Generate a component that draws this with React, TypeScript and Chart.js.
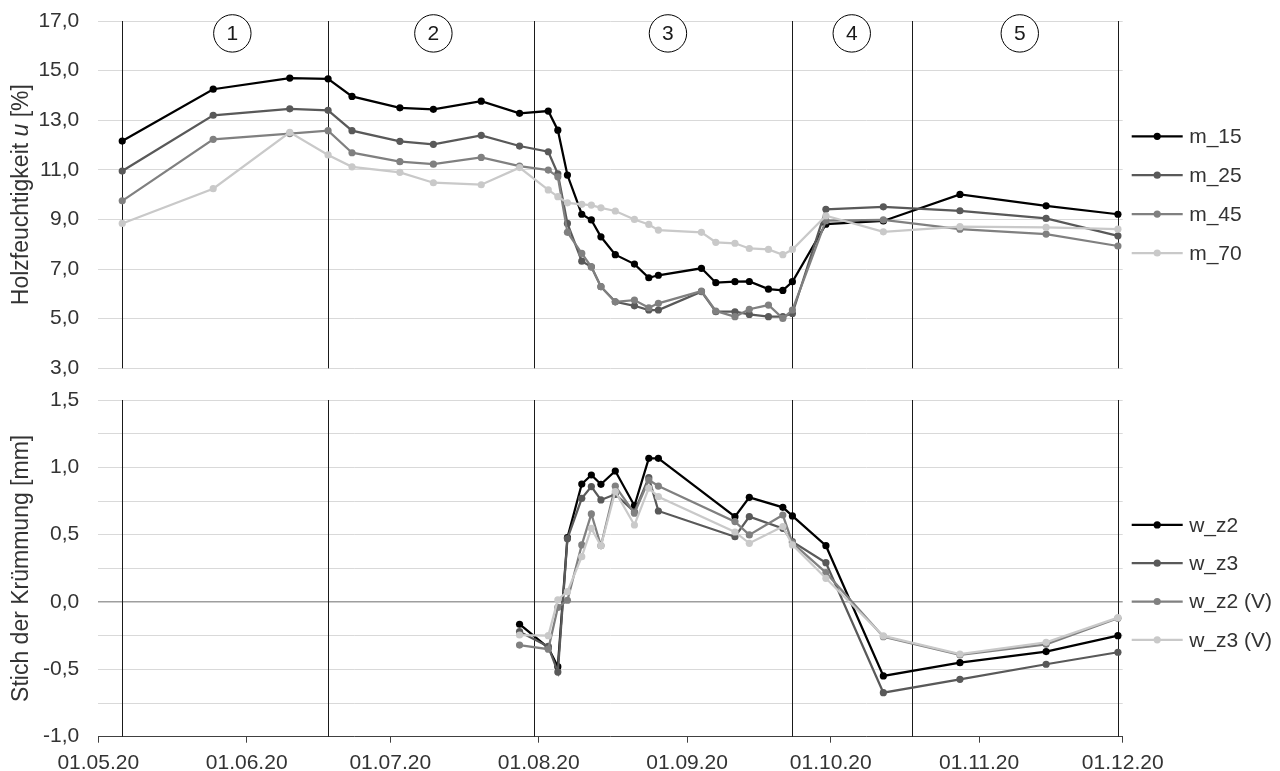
import React, { useEffect, useRef } from "react";
import { Chart, registerables } from "chart.js";

Chart.register(...registerables);

const FONT = "'Liberation Sans', Arial, Helvetica, sans-serif";
const TEXT = "#333333";

// ---- x axis (days after 01.05.20) ----
const xTickDays = [0, 31, 61, 92, 123, 153, 184, 214];
const xTickLabels = ["01.05.20", "01.06.20", "01.07.20", "01.08.20", "01.09.20", "01.10.20", "01.11.20", "01.12.20"];

// ---- phases ----
const phaseLineDays = [5, 48, 91.1, 145, 170, 213];
const phaseLabels = ["1", "2", "3", "4", "5"];
const phaseLabelDays = [28, 70, 119, 157.4, 192.5];
const phaseLabelLevel = 16.5;

// ---- top panel: wood moisture ----
const moistureDays = [5, 24, 40, 48, 53, 63, 70, 80, 88, 94, 96, 98, 101, 103, 105, 108, 112, 115, 117, 126, 129, 133, 136, 140, 143, 145, 152, 164, 180, 198, 213];
const m15 = [12.16, 14.25, 14.7, 14.67, 13.96, 13.5, 13.44, 13.77, 13.28, 13.37, 12.6, 10.79, 9.21, 8.98, 8.3, 7.58, 7.2, 6.65, 6.75, 7.03, 6.45, 6.49, 6.5, 6.19, 6.14, 6.49, 8.81, 8.94, 10.01, 9.55, 9.21];
const m25 = [10.95, 13.2, 13.46, 13.4, 12.58, 12.15, 12.03, 12.39, 11.96, 11.73, 10.84, 8.84, 7.32, 7.09, 6.29, 5.68, 5.52, 5.35, 5.35, 6.09, 5.28, 5.28, 5.17, 5.08, 5.08, 5.21, 9.41, 9.51, 9.35, 9.04, 8.34];
const m45 = [9.75, 12.23, 12.46, 12.58, 11.69, 11.33, 11.23, 11.5, 11.15, 10.99, 10.72, 8.48, 7.63, 7.09, 6.29, 5.68, 5.75, 5.44, 5.62, 6.11, 5.31, 5.08, 5.38, 5.55, 5.01, 5.35, 8.95, 8.98, 8.61, 8.41, 7.93];
const m70 = [8.84, 10.24, 12.51, 11.6, 11.12, 10.9, 10.48, 10.4, 11.09, 10.19, 9.92, 9.67, 9.61, 9.58, 9.47, 9.34, 9.0, 8.8, 8.57, 8.48, 8.08, 8.04, 7.83, 7.79, 7.58, 7.79, 9.15, 8.5, 8.71, 8.68, 8.61];
const moistureNames = ["m_15", "m_25", "m_45", "m_70"];

// ---- bottom panel: curvature ----
const curvatureDays = [88, 94, 96, 98, 101, 103, 105, 108, 112, 115, 117, 133, 136, 143, 145, 152, 164, 180, 198, 213];
const wz2 = [-0.165, -0.34, -0.48, 0.478, 0.876, 0.943, 0.874, 0.973, 0.715, 1.067, 1.067, 0.634, 0.777, 0.703, 0.639, 0.418, -0.549, -0.45, -0.368, -0.25];
const wz3 = [-0.22, -0.33, -0.52, 0.47, 0.77, 0.857, 0.758, 0.8, 0.67, 0.923, 0.676, 0.485, 0.634, 0.547, 0.448, 0.292, -0.673, -0.574, -0.462, -0.373];
const wz2V = [-0.32, -0.35, -0.04, 0.013, 0.424, 0.654, 0.418, 0.86, 0.66, 0.906, 0.861, 0.597, 0.498, 0.646, 0.44, 0.218, -0.257, -0.393, -0.314, -0.121];
const wz3V = [-0.245, -0.25, 0.017, 0.077, 0.337, 0.547, 0.418, 0.82, 0.572, 0.845, 0.782, 0.52, 0.436, 0.56, 0.424, 0.176, -0.252, -0.386, -0.299, -0.116];
const curvatureNames = ["w_z2", "w_z3", "w_z2 (V)", "w_z3 (V)"];

const seriesColors = ["#000000", "#595959", "#808080", "#c9c9c9"];

const fmt = (v: number) => v.toFixed(1).replace(".", ",");

function makeDatasets(names: string[], days: number[], series: number[][]) {
  return names.map((name, i) => ({
    label: name,
    data: days.map((d, k) => ({ x: d, y: series[i][k] })),
    borderColor: seriesColors[i],
    backgroundColor: seriesColors[i],
    pointBackgroundColor: seriesColors[i],
    pointBorderWidth: 0,
    pointRadius: 3.6,
    borderWidth: 2.25,
    tension: 0,
    order: names.length - 1 - i,
  }));
}

const phaseLinesPlugin = {
  id: "phaseLines",
  beforeDatasetsDraw(chart: any) {
    const { ctx, chartArea, scales } = chart;
    ctx.save();
    ctx.strokeStyle = "#1a1a1a";
    ctx.lineWidth = 1;
    for (const d of phaseLineDays) {
      const x = Math.round(scales.x.getPixelForValue(d)) + 0.5;
      ctx.beginPath();
      ctx.moveTo(x, chartArea.top);
      ctx.lineTo(x, chartArea.bottom);
      ctx.stroke();
    }
    ctx.restore();
  },
};

const phaseCirclesPlugin = {
  id: "phaseCircles",
  afterDatasetsDraw(chart: any) {
    const { ctx, scales } = chart;
    ctx.save();
    const y = scales.y.getPixelForValue(phaseLabelLevel);
    phaseLabels.forEach((lab, i) => {
      const x = scales.x.getPixelForValue(phaseLabelDays[i]);
      ctx.beginPath();
      ctx.arc(x, y, 18.7, 0, Math.PI * 2);
      ctx.fillStyle = "#ffffff";
      ctx.fill();
      ctx.strokeStyle = "#000000";
      ctx.lineWidth = 1;
      ctx.stroke();
      ctx.fillStyle = "#1a1a1a";
      ctx.font = `21px ${FONT}`;
      ctx.textAlign = "center";
      ctx.textBaseline = "middle";
      ctx.fillText(lab, x, y + 1);
    });
    ctx.restore();
  },
};

function sideLegendPlugin(centerOffset: number, spacing: number) {
  return {
    id: "sideLegend",
    afterDraw(chart: any) {
      const { ctx, chartArea } = chart;
      const ds = chart.data.datasets;
      const cy = (chartArea.top + chartArea.bottom) / 2 + centerOffset;
      ctx.save();
      ds.forEach((d: any, i: number) => {
        const y = cy + (i - (ds.length - 1) / 2) * spacing;
        const x0 = chartArea.right + 9;
        const x1 = chartArea.right + 60;
        ctx.strokeStyle = d.borderColor;
        ctx.lineWidth = 2.25;
        ctx.beginPath();
        ctx.moveTo(x0, y);
        ctx.lineTo(x1, y);
        ctx.stroke();
        ctx.fillStyle = d.borderColor;
        ctx.beginPath();
        ctx.arc((x0 + x1) / 2, y, 3.6, 0, Math.PI * 2);
        ctx.fill();
        ctx.fillStyle = TEXT;
        ctx.font = `21px ${FONT}`;
        ctx.textAlign = "left";
        ctx.textBaseline = "middle";
        ctx.fillText(d.label, chartArea.right + 66.5, y + 1);
      });
      ctx.restore();
    },
  };
}

function yTitlePlugin(parts: { text: string; italic: boolean }[]) {
  return {
    id: "yTitle",
    afterDraw(chart: any) {
      const { ctx, chartArea } = chart;
      ctx.save();
      ctx.translate(22, (chartArea.top + chartArea.bottom) / 2);
      ctx.rotate(-Math.PI / 2);
      ctx.fillStyle = TEXT;
      ctx.textBaseline = "middle";
      ctx.textAlign = "left";
      const fonts = parts.map((p) => `${p.italic ? "italic " : ""}23px ${FONT}`);
      let total = 0;
      const widths = parts.map((p, i) => {
        ctx.font = fonts[i];
        const w = ctx.measureText(p.text).width;
        total += w;
        return w;
      });
      let x = -total / 2;
      parts.forEach((p, i) => {
        ctx.font = fonts[i];
        ctx.fillText(p.text, x, 0);
        x += widths[i];
      });
      ctx.restore();
    },
  };
}

const Y_AXIS_WIDTH = 98.3;
const RIGHT_PAD = 157.3;

function xScale(display: boolean) {
  return {
    type: "linear" as const,
    min: xTickDays[0],
    max: xTickDays[xTickDays.length - 1],
    display,
    afterBuildTicks: (s: any) => {
      s.ticks = xTickDays.map((v) => ({ value: v }));
    },
    afterFit: (s: any) => {
      if (display) s.height = 34.3;
      s.paddingTop = 0;
      s.paddingBottom = 0;
    },
    ticks: {
      autoSkip: false,
      maxRotation: 0,
      minRotation: 0,
      padding: 8,
      color: TEXT,
      font: { size: 21, family: FONT },
      callback: (v: any) => xTickLabels[xTickDays.indexOf(Number(v))] ?? "",
    },
    grid: { drawOnChartArea: false, drawTicks: true, tickLength: 6, color: "#404040", lineWidth: 1 },
    border: { display: true, color: "#404040", width: 1 },
  };
}

function yAfterFit(s: any) {
  s.width = Y_AXIS_WIDTH;
  s.paddingTop = 12;
  s.paddingBottom = 12;
}

export default function App() {
  const topRef = useRef<HTMLCanvasElement | null>(null);
  const botRef = useRef<HTMLCanvasElement | null>(null);

  useEffect(() => {
    Chart.defaults.font.family = FONT;
    const top = new Chart(topRef.current as HTMLCanvasElement, {
      type: "line",
      data: { datasets: makeDatasets(moistureNames, moistureDays, [m15, m25, m45, m70]) as any },
      options: {
        responsive: false,
        animation: false,
        devicePixelRatio: 1,
        layout: { autoPadding: false, padding: { top: 21, bottom: 385 - 368.3, left: 0, right: RIGHT_PAD } },
        plugins: { legend: { display: false }, tooltip: { enabled: false } },
        scales: {
          x: xScale(false) as any,
          y: {
            min: 3,
            max: 17,
            afterFit: yAfterFit,
            ticks: {
              stepSize: 1,
              padding: 19,
              color: TEXT,
              font: { size: 21, family: FONT },
              callback: (v: any) => (Math.round(Number(v)) % 2 === 1 ? fmt(Number(v)) : ""),
            },
            grid: { drawTicks: false, color: "#d9d9d9", lineWidth: 1 },
            border: { display: false },
          },
        },
      },
      plugins: [
        phaseLinesPlugin,
        phaseCirclesPlugin,
        sideLegendPlugin(0, 38.9),
        yTitlePlugin([
          { text: "Holzfeuchtigkeit ", italic: false },
          { text: "u", italic: true },
          { text: " [%]", italic: false },
        ]),
      ],
    });

    const bottom = new Chart(botRef.current as HTMLCanvasElement, {
      type: "line",
      data: { datasets: makeDatasets(curvatureNames, curvatureDays, [wz2, wz3, wz2V, wz3V]) as any },
      options: {
        responsive: false,
        animation: false,
        devicePixelRatio: 1,
        layout: { autoPadding: false, padding: { top: 15, bottom: 0, left: 0, right: RIGHT_PAD } },
        plugins: { legend: { display: false }, tooltip: { enabled: false } },
        scales: {
          x: xScale(true) as any,
          y: {
            min: -1,
            max: 1.5,
            afterFit: yAfterFit,
            ticks: {
              stepSize: 0.25,
              padding: 19,
              color: TEXT,
              font: { size: 21, family: FONT },
              callback: (v: any) => {
                const n = Number(v);
                return Math.abs(n * 2 - Math.round(n * 2)) < 1e-6 ? fmt(n) : "";
              },
            },
            grid: {
              drawTicks: false,
              color: (c: any) => (Math.abs(c.tick?.value ?? 1) < 1e-9 ? "#9e9e9e" : "#d9d9d9"),
              lineWidth: (c: any) => (Math.abs(c.tick?.value ?? 1) < 1e-9 ? 1.6 : 1),
            },
            border: { display: false },
          },
        },
      },
      plugins: [
        phaseLinesPlugin,
        sideLegendPlugin(14, 38.3),
        yTitlePlugin([{ text: "Stich der Krümmung [mm]", italic: false }]),
      ],
    });

    return () => {
      top.destroy();
      bottom.destroy();
    };
  }, []);

  return (
    <div style={{ position: "fixed", left: 0, top: 0, width: 1280, height: 771, background: "#ffffff" }}>
      <canvas ref={topRef} width={1280} height={385} style={{ position: "absolute", left: 0, top: 0, width: 1280, height: 385 }} />
      <canvas ref={botRef} width={1280} height={386} style={{ position: "absolute", left: 0, top: 385, width: 1280, height: 386 }} />
    </div>
  );
}
